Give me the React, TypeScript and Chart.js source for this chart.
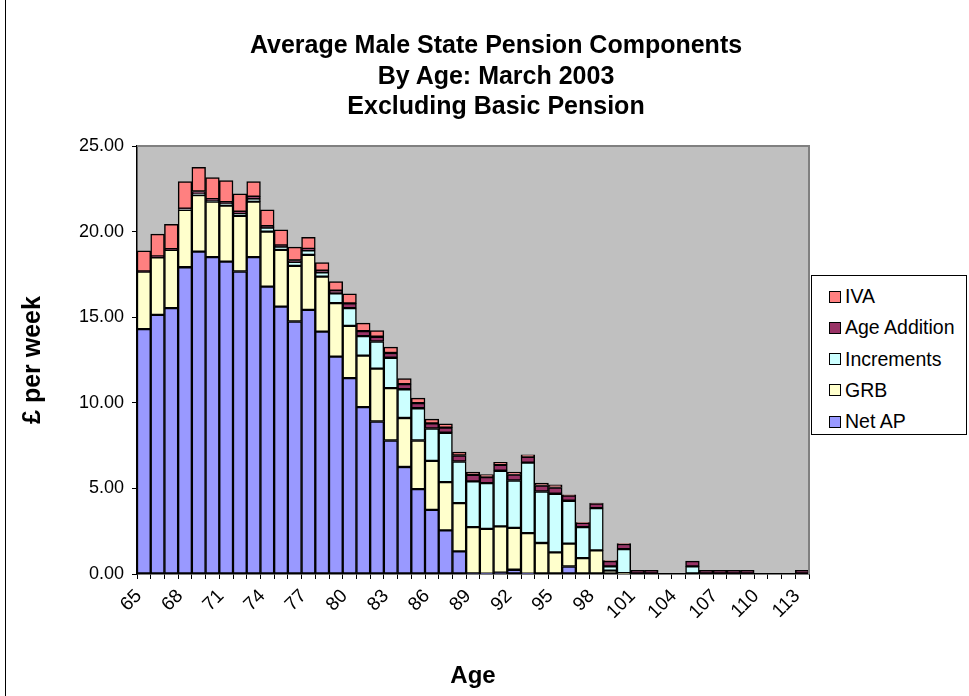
import React, { useEffect, useRef } from "react";
import { Chart, registerables } from "chart.js";

Chart.register(...registerables);

const ages: string[] = [
  "65","66","67","68","69","70","71","72","73","74","75","76","77","78","79","80","81","82","83","84",
  "85","86","87","88","89","90","91","92","93","94","95","96","97","98","99","100","101","102","103","104",
  "105","106","107","108","109","110","111","112","113",
];

const netAP: number[] = [
  14.30,15.14,15.53,17.92,18.83,18.51,18.25,17.67,18.51,16.79,15.62,14.75,15.43,14.16,12.70,11.44,9.75,8.91,7.80,6.25,
  4.96,3.75,2.55,1.32,0.03,0.02,0.08,0.25,0.02,0,0,0.44,0,0,0,0,0,0,0,0,
  0,0,0,0,0,0,0,0,0,
];
const grb: number[] = [
  3.36,3.36,3.40,3.35,3.31,3.24,3.27,3.25,3.24,3.21,3.31,3.25,3.21,3.21,3.12,3.05,3.01,3.09,3.06,2.86,
  2.84,2.86,2.82,2.82,2.71,2.62,2.70,2.44,2.37,1.81,1.26,1.33,0.93,1.38,0.20,0.05,0,0,0,0,
  0,0,0,0,0,0,0,0,0,
];
const increments: number[] = [
  0,0,0,0.02,0.05,0.05,0.10,0.13,0.17,0.23,0.19,0.23,0.27,0.25,0.58,1.04,1.13,1.58,1.77,1.68,
  1.88,1.89,2.88,2.43,2.67,2.67,3.25,2.77,4.12,3.01,3.43,2.51,1.81,2.47,0.25,1.40,0,0,0,0,
  0.45,0,0,0,0,0,0,0,0,
];
const ageAddition: number[] = [
  0.02,0.05,0.05,0.05,0.15,0.10,0.10,0.12,0.12,0.08,0.08,0.08,0.08,0.10,0.15,0.28,0.30,0.28,0.28,0.30,
  0.30,0.30,0.30,0.35,0.38,0.35,0.35,0.35,0.33,0.35,0.36,0.30,0.25,0.27,0.30,0.30,0.22,0.22,0,0,
  0.30,0.22,0.22,0.22,0.22,0,0,0,0.22,
];
const iva: number[] = [
  1.19,1.30,1.45,1.58,1.42,1.25,1.26,1.03,0.88,0.96,0.90,0.78,0.68,0.47,0.53,0.55,0.46,0.36,0.34,0.33,
  0.29,0.25,0.22,0.20,0.16,0.14,0.14,0.14,0.12,0.14,0.16,0.05,0.02,0.02,0.03,0.02,0,0,0,0,
  0,0,0,0,0,0,0,0,0,
];

const seriesNames: string[] = ["Net AP", "GRB", "Increments", "Age Addition", "IVA"];
const seriesColors: string[] = ["#9999FF", "#FFFFCC", "#CCFFFF", "#993366", "#FF8080"];
const titleLines: string[] = ["Average Male State Pension Components", "By Age: March 2003", "Excluding Basic Pension"];
const labelEvery = 3;

const FONT = "'Liberation Sans', Arial, sans-serif";

export default function App() {
  const canvasRef = useRef<HTMLCanvasElement | null>(null);

  useEffect(() => {
    const canvas = canvasRef.current;
    if (!canvas) return;
    const values = [netAP, grb, increments, ageAddition, iva];

    const plotBg = {
      id: "plotBg",
      beforeDraw(chart: any) {
        const { ctx, chartArea } = chart;
        ctx.save();
        ctx.fillStyle = "#C0C0C0";
        ctx.fillRect(chartArea.left, chartArea.top, chartArea.right - chartArea.left, chartArea.bottom - chartArea.top);
        ctx.restore();
      },
      afterDraw(chart: any) {
        const { ctx, chartArea } = chart;
        ctx.save();
        ctx.strokeStyle = "#808080";
        ctx.lineWidth = 2;
        ctx.beginPath();
        ctx.moveTo(chartArea.left, chartArea.top);
        ctx.lineTo(chartArea.right, chartArea.top);
        ctx.lineTo(chartArea.right, chartArea.bottom);
        ctx.stroke();
        ctx.restore();
      },
    };

    const chart = new Chart(canvas, {
      type: "bar",
      data: {
        labels: ages,
        datasets: seriesNames.map((name, i) => ({
          label: name,
          data: values[i],
          backgroundColor: seriesColors[i],
          borderColor: "#000000",
          borderWidth: 1.5,
          borderSkipped: false,
          categoryPercentage: 1,
          barPercentage: 1,
        })),
      },
      options: {
        animation: false,
        responsive: false,
        maintainAspectRatio: false,
        layout: { padding: { left: 20, top: 146, right: 160, bottom: 0 } },
        plugins: {
          legend: { display: false },
          tooltip: { enabled: false },
          title: { display: false },
        },
        scales: {
          x: {
            stacked: true,
            afterFit(scale: any) {
              scale.height = 122;
            },
            grid: {
              display: true,
              drawOnChartArea: false,
              drawTicks: true,
              tickLength: 5,
              color: "#000000",
              offset: true,
            },
            border: { display: true, color: "#000000", width: 1.5 },
            ticks: {
              autoSkip: false,
              maxRotation: 45,
              minRotation: 45,
              color: "#000000",
              padding: 6,
              labelOffset: -5,
              font: { family: FONT, size: 19 },
              callback: (_v: any, i: number) => (i % labelEvery === 0 ? ages[i] : ""),
            },
            title: {
              display: true,
              text: "Age",
              color: "#000000",
              font: { family: FONT, size: 24, weight: "bold" },
              padding: { top: 0, bottom: 5 },
            },
          },
          y: {
            stacked: true,
            min: 0,
            max: 25,
            afterFit(scale: any) {
              scale.width = 117;
            },
            grid: {
              display: true,
              drawOnChartArea: false,
              drawTicks: true,
              tickLength: 5,
              color: "#000000",
            },
            border: { display: true, color: "#000000", width: 1.5 },
            ticks: {
              stepSize: 5,
              color: "#000000",
              padding: 8,
              font: { family: FONT, size: 18 },
              callback: (v: any) => Number(v).toFixed(2),
            },
            title: {
              display: true,
              text: "£ per week",
              color: "#000000",
              font: { family: FONT, size: 25, weight: "bold" },
              padding: { top: -2, bottom: 0 },
            },
          },
        },
      },
      plugins: [plotBg],
    } as any);

    return () => chart.destroy();
  }, []);

  return (
    <div style={{ position: "absolute", left: 0, top: 0, width: 969, height: 696, background: "#fff", overflow: "hidden" }}>
      <div style={{ position: "absolute", left: 5, top: -2, width: 2000, height: 2000, border: "1px solid #000" }} />
      <canvas ref={canvasRef} width={969} height={696} style={{ position: "absolute", left: 0, top: 0, width: 969, height: 696 }} />
      <div
        style={{
          position: "absolute",
          left: 0,
          top: 29,
          width: 992,
          textAlign: "center",
          fontFamily: FONT,
          fontWeight: "bold",
          fontSize: 25,
          lineHeight: "30.5px",
          color: "#000",
        }}
      >
        {titleLines.map((t) => (
          <div key={t}>{t}</div>
        ))}
      </div>
      <div
        style={{
          position: "absolute",
          left: 811,
          top: 275,
          width: 156,
          height: 160,
          boxSizing: "border-box",
          border: "1px solid #000",
          background: "#fff",
          fontFamily: FONT,
          fontSize: 19.5,
          color: "#000",
          paddingTop: 5,
        }}
      >
        {seriesNames
          .map((n, i) => ({ n, c: seriesColors[i] }))
          .reverse()
          .map(({ n, c }) => (
            <div key={n} style={{ display: "flex", alignItems: "center", height: 31.25, whiteSpace: "nowrap" }}>
              <span
                style={{
                  display: "inline-block",
                  width: 12,
                  height: 12,
                  boxSizing: "border-box",
                  border: "1.5px solid #000",
                  background: c,
                  marginLeft: 17,
                  marginRight: 4,
                }}
              />
              <span>{n}</span>
            </div>
          ))}
      </div>
    </div>
  );
}
